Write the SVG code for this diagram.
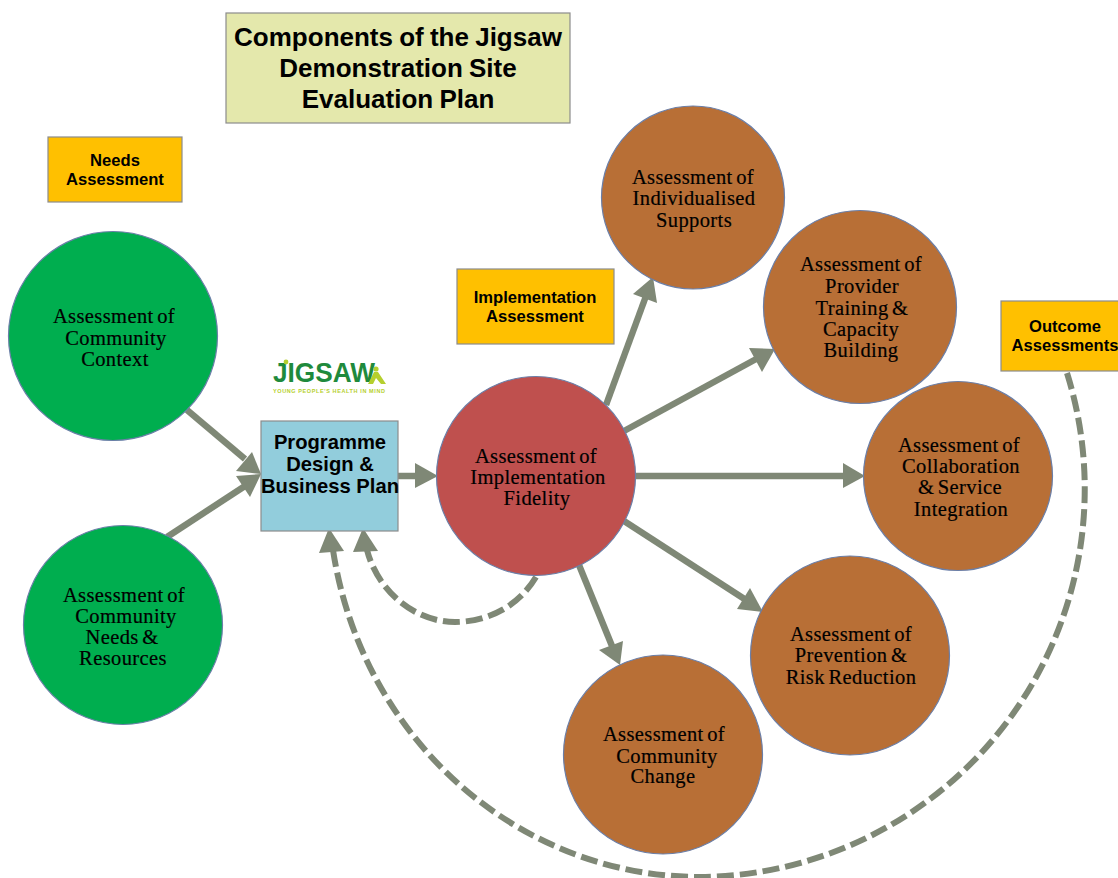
<svg xmlns="http://www.w3.org/2000/svg" width="1118" height="878" viewBox="0 0 1118 878">
<style>
.a{font-family:"Liberation Sans",Arial,sans-serif;font-weight:700;fill:#000;text-anchor:middle}
.s{font-family:"Liberation Serif","Times New Roman",serif;font-size:20.5px;letter-spacing:.4px;word-spacing:-2px;fill:#000;stroke:#000;stroke-width:.2;text-anchor:middle}
.t{font-size:26px;word-spacing:-1px}.m{font-size:20.2px}.n{font-size:16.6px}
.c{stroke:#6b7fa8;stroke-width:1.2}
.g{fill:#00ae4f}.b{fill:#b86f36}.r{fill:#bf504e}
.box{stroke:#8c8c8c;stroke-width:1.2}
.o{fill:#ffc000}
.l{fill:none;stroke:#7f8876;stroke-width:6.5}
.d{fill:none;stroke:#7f8876;stroke-width:6;stroke-dasharray:17 6}
.h{fill:#7f8876}
</style>
<g id="connectors">
<path class="l" d="M187 410L245 459"/><polygon class="h" points="261,474 252,452 236,471"/>
<path class="l" d="M167 537L245 486"/><polygon class="h" points="261,474 236,476 250,497"/>
<path class="l" d="M398 476H416"/><polygon class="h" points="438,476 415,463 415,488"/>
<path class="l" d="M606 405L646 296"/><polygon class="h" points="653,277 633,294 657,303"/>
<path class="l" d="M624 431L758 358"/><polygon class="h" points="775,349 749,348 762,372"/>
<path class="l" d="M635 476H845"/><polygon class="h" points="865,476 843,463 843,488"/>
<path class="l" d="M624 521L746 600"/><polygon class="h" points="763,612 737,609 750,588"/>
<path class="l" d="M579 565L612 646"/><polygon class="h" points="620,665 599,650 623,641"/>
<path class="d" d="M536 577C515 612 480 622 455 622C415 622 378 592 367 550"/><polygon class="h" points="363,528 353,552 378,551"/>
<path class="d" d="M1067 373A388 388 0 0 1 700 877A372 388 0 0 1 333 550"/><polygon class="h" points="329,528 319,553 344,551"/>
</g>
<g id="title"><rect class="box" x="226" y="13" width="344" height="110" fill="#e4e8ac"/>
<text class="a t" x="398" y="46">Components of the Jigsaw</text>
<text class="a t" x="398" y="77">Demonstration Site</text>
<text class="a t" x="398" y="108">Evaluation Plan</text></g>
<g id="needs"><rect class="box o" x="48" y="137" width="134" height="65"/>
<text class="a n" x="115" y="166">Needs</text><text class="a n" x="115" y="185">Assessment</text></g>
<g id="impl"><rect class="box o" x="457" y="269" width="157" height="75"/>
<text class="a n" x="535" y="303">Implementation</text><text class="a n" x="535" y="322">Assessment</text></g>
<g id="outcome"><rect class="box o" x="1001" y="301" width="118" height="70"/>
<text class="a n" x="1065" y="332">Outcome</text><text class="a n" x="1065" y="351">Assessments</text></g>
<g id="logo">
<text x="273" y="382" font-family="'Liberation Sans',Arial,sans-serif" font-weight="700" font-size="27" fill="#1f8a3c" textLength="102" lengthAdjust="spacingAndGlyphs">JIGSAW</text>
<circle cx="376" cy="369" r="2.6" fill="#b5cf2e"/><path d="M374 372L378 372L386 384H381L376 378L373 384H368Z" fill="#b5cf2e"/>
<circle cx="286" cy="362" r="2.4" fill="#b5cf2e"/>
<text x="273" y="392.5" font-family="'Liberation Sans',Arial,sans-serif" font-weight="700" font-size="5.5" fill="#b5cf2e" textLength="112" lengthAdjust="spacing">YOUNG PEOPLE'S HEALTH IN MIND</text>
</g>
<g id="plan"><rect class="box" x="261" y="421" width="137" height="110" fill="#92cddc"/>
<text class="a m" x="330" y="449">Programme</text><text class="a m" x="330" y="471">Design &amp;</text><text class="a m" x="330" y="493">Business Plan</text></g>
<g id="n1"><circle class="c g" cx="113" cy="336" r="104.5"/><text class="s" x="114" y="323">Assessment of</text><text class="s" x="116" y="345">Community</text><text class="s" x="115" y="366">Context</text></g>
<g id="n2"><circle class="c g" cx="123" cy="625" r="99.5"/><text class="s" x="124" y="602">Assessment of</text><text class="s" x="126" y="623">Community</text><text class="s" x="122" y="644">Needs &amp;</text><text class="s" x="123" y="665">Resources</text></g>
<g id="n3"><circle class="c r" cx="536" cy="476" r="99.5"/><text class="s" x="536" y="463">Assessment of</text><text class="s" x="538" y="484">Implementation</text><text class="s" x="537" y="505">Fidelity</text></g>
<g id="n4"><circle class="c b" cx="693" cy="197.5" r="91.5"/><text class="s" x="693" y="184">Assessment of</text><text class="s" x="694" y="205">Individualised</text><text class="s" x="694" y="227">Supports</text></g>
<g id="n5"><circle class="c b" cx="860" cy="307" r="96.5"/><text class="s" x="861" y="271">Assessment of</text><text class="s" x="862" y="293">Provider</text><text class="s" x="862" y="315">Training &amp;</text><text class="s" x="861" y="336">Capacity</text><text class="s" x="861" y="357">Building</text></g>
<g id="n6"><circle class="c b" cx="958" cy="476" r="94.5"/><text class="s" x="959" y="452">Assessment of</text><text class="s" x="961" y="473">Collaboration</text><text class="s" x="960" y="494">&amp; Service</text><text class="s" x="961" y="516">Integration</text></g>
<g id="n7"><circle class="c b" cx="850" cy="655.5" r="99.5"/><text class="s" x="851" y="641">Assessment of</text><text class="s" x="851" y="662">Prevention &amp;</text><text class="s" x="851" y="684">Risk Reduction</text></g>
<g id="n8"><circle class="c b" cx="663" cy="754.5" r="99.5"/><text class="s" x="664" y="741">Assessment of</text><text class="s" x="667" y="763">Community</text><text class="s" x="663" y="783">Change</text></g>
</svg>
